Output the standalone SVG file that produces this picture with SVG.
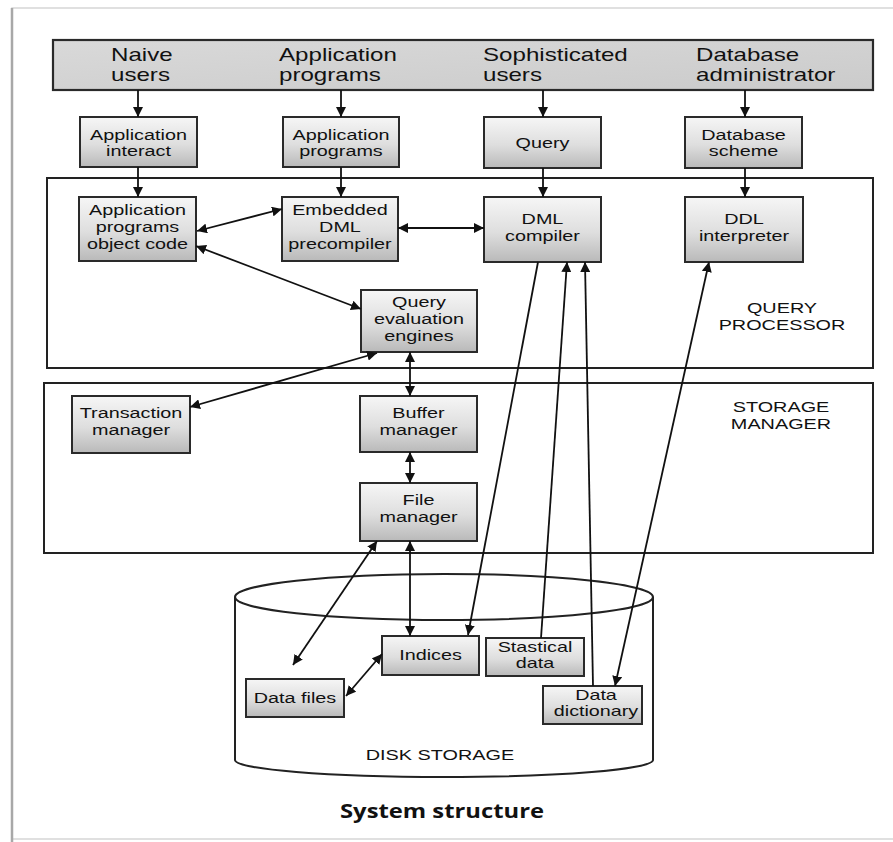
<svg xmlns="http://www.w3.org/2000/svg" width="893" height="842" viewBox="0 0 893 842">
<defs>
<linearGradient id="gBox" x1="0" y1="0" x2="0" y2="1">
<stop offset="0" stop-color="#f6f6f6"/>
<stop offset="0.55" stop-color="#dedede"/>
<stop offset="1" stop-color="#b9b9b9"/>
</linearGradient>
<linearGradient id="gBar" x1="0" y1="0" x2="1" y2="1">
<stop offset="0" stop-color="#d9d9d9"/>
<stop offset="0.5" stop-color="#d2d2d2"/>
<stop offset="1" stop-color="#cbcbcb"/>
</linearGradient>
<marker id="ah" viewBox="0 0 10 10" refX="10" refY="5" markerWidth="10" markerHeight="10" markerUnits="userSpaceOnUse" orient="auto-start-reverse">
<path d="M0,0 L10,5 L0,10 z" fill="#111"/>
</marker>
<style>
.box{fill:url(#gBox);stroke:#2a2a2a;stroke-width:2}
.bar{fill:url(#gBar);stroke:#2a2a2a;stroke-width:2.2}
.grp{fill:#fff;stroke:#222;stroke-width:2}
.cyl{fill:#fff;stroke:#222;stroke-width:2}
.t{font-family:"Liberation Sans",Arial,sans-serif;font-size:15px;fill:#111;text-anchor:middle}
.ts{font-family:"Liberation Sans",Arial,sans-serif;font-size:14.2px;fill:#111;text-anchor:middle}
.tb{font-family:"Liberation Sans",Arial,sans-serif;font-size:18px;fill:#111}
.lbl{font-family:"Liberation Sans",Arial,sans-serif;font-size:15.5px;fill:#111;text-anchor:middle}
.title{font-family:"Open Sans","Liberation Sans",sans-serif;font-size:19px;font-weight:bold;fill:#111;text-anchor:middle}
.c{fill:none;stroke:#111;stroke-width:1.8}
.frame{fill:none;stroke:#d6d6d6;stroke-width:1.5}
</style>
</defs>
<rect x="0" y="0" width="893" height="842" fill="#fff"/>
<rect class="frame" x="12" y="8" width="900" height="831"/>
<line x1="12" y1="8" x2="12" y2="842" stroke="#a8a8a8" stroke-width="2.5"/>

<g id="query-processor">
<rect class="grp" x="47" y="178" width="826" height="190"/>
<text class="lbl" transform="translate(782,312.5) scale(1.28,1)"><tspan x="0" y="0">QUERY</tspan><tspan x="0" y="17.8">PROCESSOR</tspan></text>
</g>
<g id="storage-manager">
<rect class="grp" x="44" y="383" width="829" height="170"/>
<text class="lbl" transform="translate(781,411.5) scale(1.28,1)"><tspan x="0" y="0">STORAGE</tspan><tspan x="0" y="18">MANAGER</tspan></text>
</g>
<g id="disk-storage">
<path class="cyl" d="M235,597 L235,760 A209,17 0 0 0 653,760 L653,597"/>
<ellipse class="cyl" cx="444" cy="597" rx="209" ry="23"/>
<text class="lbl" transform="translate(440,760) scale(1.28,1)">DISK STORAGE</text>
</g>

<g id="users">
<rect class="bar" x="53" y="40" width="820" height="50"/>
<text class="tb" transform="translate(111,60.5) scale(1.34,1)"><tspan x="0" y="0">Naive</tspan><tspan x="0" y="20.3">users</tspan></text>
<text class="tb" transform="translate(279,60.5) scale(1.34,1)"><tspan x="0" y="0">Application</tspan><tspan x="0" y="20.3">programs</tspan></text>
<text class="tb" transform="translate(483,60.5) scale(1.34,1)"><tspan x="0" y="0">Sophisticated</tspan><tspan x="0" y="20.3">users</tspan></text>
<text class="tb" transform="translate(696,60.5) scale(1.34,1)"><tspan x="0" y="0">Database</tspan><tspan x="0" y="20.3">administrator</tspan></text>
</g>

<g id="application-interact">
<rect class="box" x="80" y="117" width="117" height="50"/>
<text class="t" transform="translate(138.5,139.5) scale(1.32,1)"><tspan x="0" y="0">Application</tspan><tspan x="0" y="17">interact</tspan></text>
</g>
<g id="application-programs">
<rect class="box" x="283" y="117" width="116" height="50"/>
<text class="t" transform="translate(341,139.5) scale(1.32,1)"><tspan x="0" y="0">Application</tspan><tspan x="0" y="17">programs</tspan></text>
</g>
<g id="query">
<rect class="box" x="484" y="117" width="117" height="51"/>
<text class="t" transform="translate(542.5,148) scale(1.32,1)">Query</text>
</g>
<g id="database-scheme">
<rect class="box" x="685" y="117" width="117" height="51"/>
<text class="t" transform="translate(743.5,139.5) scale(1.32,1)"><tspan x="0" y="0">Database</tspan><tspan x="0" y="17">scheme</tspan></text>
</g>

<g id="apoc">
<rect class="box" x="79" y="197" width="117" height="64"/>
<text class="t" transform="translate(137.5,215) scale(1.32,1)"><tspan x="0" y="0">Application</tspan><tspan x="0" y="17">programs</tspan><tspan x="0" y="34">object code</tspan></text>
</g>
<g id="embedded-dml">
<rect class="box" x="282" y="197" width="116" height="64"/>
<text class="t" transform="translate(340,215) scale(1.32,1)"><tspan x="0" y="0">Embedded</tspan><tspan x="0" y="17">DML</tspan><tspan x="0" y="34">precompiler</tspan></text>
</g>
<g id="dml-compiler">
<rect class="box" x="484" y="197" width="117" height="65"/>
<text class="t" transform="translate(542.5,224) scale(1.32,1)"><tspan x="0" y="0">DML</tspan><tspan x="0" y="17">compiler</tspan></text>
</g>
<g id="ddl-interpreter">
<rect class="box" x="685" y="197" width="118" height="65"/>
<text class="t" transform="translate(744,224) scale(1.32,1)"><tspan x="0" y="0">DDL</tspan><tspan x="0" y="17">interpreter</tspan></text>
</g>
<g id="query-evaluation">
<rect class="box" x="361" y="290" width="116" height="62"/>
<text class="t" transform="translate(419,307) scale(1.32,1)"><tspan x="0" y="0">Query</tspan><tspan x="0" y="17">evaluation</tspan><tspan x="0" y="34">engines</tspan></text>
</g>

<g id="transaction-manager">
<rect class="box" x="72" y="396" width="118" height="57"/>
<text class="t" transform="translate(131,418) scale(1.32,1)"><tspan x="0" y="0">Transaction</tspan><tspan x="0" y="17">manager</tspan></text>
</g>
<g id="buffer-manager">
<rect class="box" x="360" y="396" width="117" height="56"/>
<text class="t" transform="translate(418.5,418) scale(1.32,1)"><tspan x="0" y="0">Buffer</tspan><tspan x="0" y="17">manager</tspan></text>
</g>
<g id="file-manager">
<rect class="box" x="360" y="483" width="117" height="58"/>
<text class="t" transform="translate(418.5,505) scale(1.32,1)"><tspan x="0" y="0">File</tspan><tspan x="0" y="17">manager</tspan></text>
</g>

<g id="indices">
<rect class="box" x="382" y="636" width="97" height="39"/>
<text class="t" transform="translate(430.5,660) scale(1.32,1)">Indices</text>
</g>
<g id="statistical-data">
<rect class="box" x="486" y="638" width="98" height="38"/>
<text class="ts" transform="translate(535,652) scale(1.39,1)"><tspan x="0" y="0">Stastical</tspan><tspan x="0" y="16">data</tspan></text>
</g>
<g id="data-files">
<rect class="box" x="246" y="679" width="98" height="38"/>
<text class="t" transform="translate(295,703) scale(1.32,1)">Data files</text>
</g>
<g id="data-dictionary">
<rect class="box" x="543" y="686" width="99" height="38"/>
<text class="ts" transform="translate(596,700) scale(1.39,1)"><tspan x="0" y="0">Data</tspan><tspan x="0" y="16">dictionary</tspan></text>
</g>

<g id="connectors">
<line class="c" x1="138" y1="90" x2="138" y2="117" marker-end="url(#ah)"/>
<line class="c" x1="341" y1="90" x2="341" y2="117" marker-end="url(#ah)"/>
<line class="c" x1="543" y1="90" x2="543" y2="117" marker-end="url(#ah)"/>
<line class="c" x1="745" y1="90" x2="745" y2="117" marker-end="url(#ah)"/>
<line class="c" x1="138" y1="167" x2="138" y2="197" marker-end="url(#ah)"/>
<line class="c" x1="341" y1="167" x2="341" y2="197" marker-end="url(#ah)"/>
<line class="c" x1="543" y1="168" x2="543" y2="197" marker-end="url(#ah)"/>
<line class="c" x1="745" y1="168" x2="745" y2="197" marker-end="url(#ah)"/>
<line class="c" x1="197" y1="231" x2="282" y2="209" marker-start="url(#ah)" marker-end="url(#ah)"/>
<line class="c" x1="398" y1="228" x2="484" y2="228" marker-start="url(#ah)" marker-end="url(#ah)"/>
<line class="c" x1="196" y1="246" x2="361" y2="309" marker-start="url(#ah)" marker-end="url(#ah)"/>
<line class="c" x1="377" y1="353" x2="190" y2="407" marker-start="url(#ah)" marker-end="url(#ah)"/>
<line class="c" x1="410" y1="352" x2="410" y2="396" marker-start="url(#ah)" marker-end="url(#ah)"/>
<line class="c" x1="410" y1="452" x2="410" y2="483" marker-start="url(#ah)" marker-end="url(#ah)"/>
<line class="c" x1="377" y1="541" x2="293" y2="665" marker-start="url(#ah)" marker-end="url(#ah)"/>
<line class="c" x1="410" y1="541" x2="410" y2="636" marker-start="url(#ah)" marker-end="url(#ah)"/>
<line class="c" x1="538" y1="262" x2="468" y2="635" marker-end="url(#ah)"/>
<line class="c" x1="541" y1="638" x2="567" y2="262" marker-end="url(#ah)"/>
<line class="c" x1="593" y1="686" x2="585" y2="262" marker-end="url(#ah)"/>
<line class="c" x1="709" y1="262" x2="615" y2="686" marker-start="url(#ah)" marker-end="url(#ah)"/>
<line class="c" x1="346" y1="696" x2="382" y2="654" marker-start="url(#ah)" marker-end="url(#ah)"/>
</g>

<text class="title" x="442" y="818" textLength="204" lengthAdjust="spacingAndGlyphs">System structure</text>
</svg>
